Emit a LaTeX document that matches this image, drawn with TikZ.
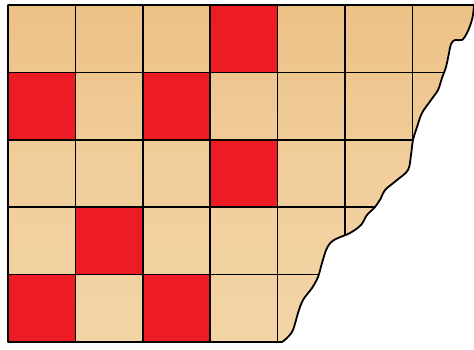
\documentclass[tikz,border=0pt]{standalone}
\definecolor{cellred}{HTML}{ED1C24}
\definecolor{tantop}{HTML}{ECC186}
\definecolor{tanbot}{HTML}{F3D4A5}
\begin{document}
\begin{tikzpicture}[x=1pt,y=-1pt,
  gridline/.style={line width=1.5pt,black},
  edgeline/.style={line width=1.8pt,black,line join=round},
  redcell/.style={fill=cellred}]
\useasboundingbox (0,0) rectangle (474,350);
\begin{scope}
\clip (8,5) -- (474,5) -- plot[smooth,tension=0.55] coordinates {(474,5) (473,15) (471,23) (467,33) (462,40) (455,40) (451,44) (449,53) (446,67) (442,78) (438,90) (431,100) (422,113) (417,127) (413,140) (411,155) (408,170) (397,180) (385,190) (381,198) (375,207) (367,215) (361,225) (350,233) (334,240) (327,248) (322,263) (318,277) (312,288) (303,300) (298,313) (293,330) (287,338) (282,342)} -- (8,342) -- cycle;
\shade[top color=tantop,bottom color=tanbot,middle color=tanbot!70!tantop] (8,5) rectangle (480,342);
\foreach \c/\r in {3/0,0/1,2/1,3/2,1/3,0/4,2/4}
  \fill[redcell] ({8+67.4*\c},{5+67.4*\r}) rectangle ({8+67.4*(\c+1)},{5+67.4*(\r+1)});
\foreach \c in {1,...,6}
  \draw[gridline] ({8+67.4*\c},5) -- ({8+67.4*\c},342);
\foreach \r in {1,...,4}
  \draw[gridline] (8,{5+67.4*\r}) -- (480,{5+67.4*\r});
\end{scope}
\draw[edgeline] (8,5) -- (474,5) -- plot[smooth,tension=0.55] coordinates {(474,5) (473,15) (471,23) (467,33) (462,40) (455,40) (451,44) (449,53) (446,67) (442,78) (438,90) (431,100) (422,113) (417,127) (413,140) (411,155) (408,170) (397,180) (385,190) (381,198) (375,207) (367,215) (361,225) (350,233) (334,240) (327,248) (322,263) (318,277) (312,288) (303,300) (298,313) (293,330) (287,338) (282,342)} -- (8,342) -- cycle;
\end{tikzpicture}
\end{document}
